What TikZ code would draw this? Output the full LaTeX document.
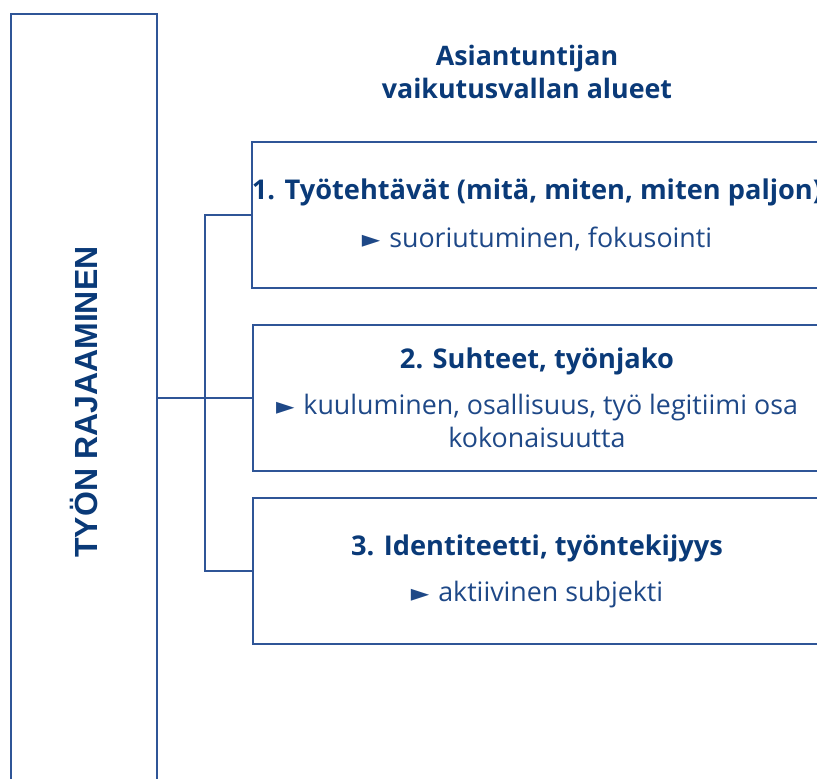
\documentclass[tikz,border=0pt]{standalone}
\usepackage{fontspec}
\setmainfont{Open Sans}
\newfontfamily\pystyfont{Liberation Sans}
\newfontfamily\merkkifont{DejaVu Sans}
\definecolor{tummasin}{RGB}{10,58,120}
\definecolor{tekstisin}{RGB}{30,72,135}
\definecolor{viivasin}{RGB}{47,85,151}
\newcommand{\nuoli}{{\merkkifont\fontsize{24}{26}\selectfont ►}\hspace{9pt}}
\tikzset{
  alue/.style={draw=viivasin, line width=1.2pt, minimum width=568pt, minimum height=146pt,
    align=center, inner sep=0pt, font=\fontsize{26.8}{33}\selectfont, text=tekstisin},
}
\newcommand{\otsake}[1]{{\bfseries\fontsize{27.2}{31}\selectfont\color{tummasin}#1}}
\begin{document}
\begin{tikzpicture}[x=1pt, y=-1pt, line width=1.2pt, draw=viivasin]
\useasboundingbox (0,0) rectangle (817,779);
\clip (0,0) rectangle (817,779);
\node[draw=viivasin, line width=1.2pt, rotate=90, minimum width=776pt, minimum height=146pt,
  inner sep=0pt, font=\pystyfont\bfseries\fontsize{32}{36}\selectfont, text=tummasin]
  (rajaus) at (84,402) {TYÖN RAJAAMINEN};
\node[align=center, font=\bfseries\fontsize{26.8}{33}\selectfont, text=tummasin]
  (paaotsikko) at (527,72) {Asiantuntijan\\vaikutusvallan alueet};
\node[alue] (box1) at (537,215) {\otsake{1. Työtehtävät (mitä, miten, miten paljon)}\\[15pt]\nuoli suoriutuminen, fokusointi};
\node[alue] (box2) at (537,398) {\otsake{2. Suhteet, työnjako}\\[13pt]\nuoli kuuluminen, osallisuus, työ legitiimi osa\\kokonaisuutta};
\node[alue] (box3) at (537,571) {\otsake{3. Identiteetti, työntekijyys}\\[13pt]\nuoli aktiivinen subjekti};
\coordinate (haara) at (205,398);
\draw[viivasin] (rajaus.south |- box2.west) -- (box2.west);
\draw[viivasin] (box1.west) -| (haara) |- (box3.west);
\end{tikzpicture}
\end{document}
